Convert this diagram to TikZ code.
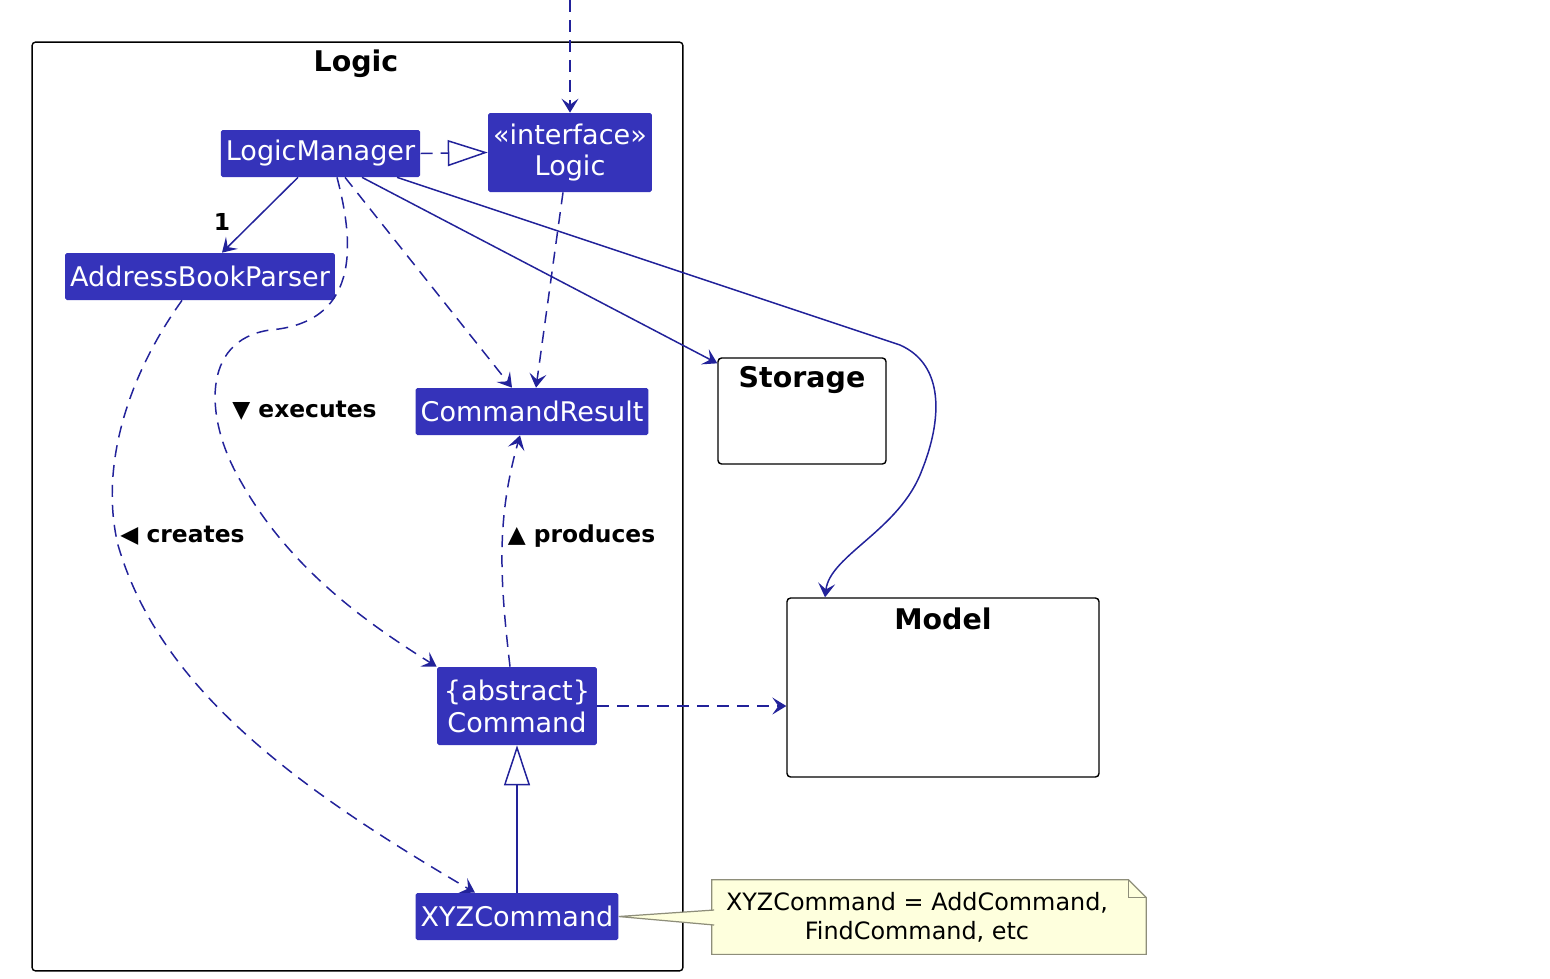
\documentclass[tikz,border=0pt]{standalone}
\usepackage{fontspec}
\setmainfont{DejaVu Sans}
\usetikzlibrary{arrows.meta,positioning}
\definecolor{umlblue}{HTML}{3533BA}
\definecolor{umlline}{HTML}{22229A}
\definecolor{notefill}{HTML}{FEFFDD}
\definecolor{noteline}{HTML}{8E8E7A}

\begin{document}
\begin{tikzpicture}[x=0.02cm, y=-0.02cm,
    cls/.style={rectangle, fill=umlblue, rounded corners=1pt, text=white, align=center, inner xsep=0.1cm, minimum height=0.94cm, font=\fontsize{15.4}{18.1}\selectfont},
    pkg/.style={rectangle, draw=black, rounded corners=2pt, line width=0.8pt},
    pkgtitle/.style={font=\bfseries\fontsize{16.2}{18}\selectfont, inner sep=0pt},
    lbl/.style={font=\bfseries\fontsize{13.3}{15}\selectfont, inner sep=1pt},
    notetext/.style={align=center, font=\fontsize{13.6}{16.3}\selectfont},
    conn/.style={umlline, line width=0.85pt},
    dep/.style={conn, dash pattern=on 2.4mm off 1.6mm},
    arrow/.style={-{Stealth[length=2.8mm, width=3.4mm, inset=1.2mm]}},
    realize/.style={-{Triangle[open, length=0.8cm, width=0.52cm, fill=white]}}]
  \useasboundingbox (0,0) rectangle (1550,978);
  % packages
  \node[pkg, minimum width=13.02cm, minimum height=18.58cm] (logicpkg) at (357.5,506.5) {};
  \node[pkgtitle] (logictitle) at (356,64) {Logic};
  \node[pkg, minimum width=3.36cm, minimum height=2.12cm] (storage) at (802,411) {};
  \node[pkgtitle] (storagetitle) at (802,380) {Storage};
  \node[pkg, minimum width=6.24cm, minimum height=3.58cm] (model) at (943,687.5) {};
  \node[pkgtitle] (modeltitle) at (943,619) {Model};
  % classes
  \node[cls] (lm) at (320.5,153.5) {LogicManager};
  \node[cls, minimum width=3.24cm, minimum height=1.58cm] (logic) at (570,152.5) {«interface»\\Logic};
  \node[cls] (abp) at (200,276.5) {AddressBookParser};
  \node[cls] (res) at (532,411.5) {CommandResult};
  \node[cls, minimum width=3.2cm, minimum height=1.56cm] (cmd) at (517,706) {\{abstract\}\\Command};
  \node[cls] (xyz) at (517,916.5) {XYZCommand};
  % note
  \node[rectangle, minimum width=8.68cm, minimum height=1.48cm] (note) at (929,917) {};
  \draw[noteline, fill=notefill, line width=0.7pt] (note.north west) -- ([xshift=-3.6mm]note.north east) -- ([yshift=-3.6mm]note.north east) -- (note.south east) -- (note.south west) -- cycle;
  \draw[noteline, line width=0.7pt] ([xshift=-3.6mm]note.north east) -- ([xshift=-3.6mm, yshift=-3.6mm]note.north east) -- ([yshift=-3.6mm]note.north east);
  \node[notetext] (notebody) at (917,917) {XYZCommand = AddCommand,\\FindCommand, etc};
  \filldraw[noteline, fill=notefill, line width=0.7pt] ([xshift=0.5mm, yshift=1.4mm]note.west) -- (xyz.east) -- ([xshift=0.5mm, yshift=-1.6mm]note.west);
  \fill[notefill] ([xshift=0.6mm, yshift=1.2mm]note.west) rectangle ([xshift=-0.3mm, yshift=-1.4mm]note.west);
  % connectors
  \coordinate (caller) at (570,0);
  \draw[dep, arrow] (caller) -- (logic.north);
  \draw[dep, realize] (lm.east) -- (logic.west);
  \draw[conn, arrow] ([xshift=-4.5mm]lm.south) -- ([xshift=4.4mm]abp.north) node[lbl, pos=1, yshift=0.62cm, text=black] {1};
  \draw[dep, arrow] ([xshift=4.9mm]lm.south) -- ([xshift=-4mm]res.north);
  \draw[dep, arrow] ([xshift=-1.4mm]logic.south) -- ([xshift=0.8mm]res.north);
  \draw[conn, arrow] ([xshift=8.3mm]lm.south) -- ([yshift=-1.2mm]storage.north west);
  \draw[conn, arrow] ([xshift=15.3mm]lm.south) -- (900,345) .. controls (945,365) and (942,420) .. (922,470) .. controls (900,530) and (830,555) .. ([xshift=-23.6mm]model.north);
  \draw[dep, arrow] ([xshift=3.3mm]lm.south) .. controls (352,235) and (365,322) .. (270,330) .. controls (200,340) and (205,420) .. (240,480) .. controls (290,570) and (370,625) .. (cmd.north west);
  \draw[dep, arrow] ([xshift=-3.6mm]abp.south) .. controls (125,380) and (100,470) .. (118,545) .. controls (160,690) and (300,790) .. ([xshift=-8.4mm]xyz.north);
  \draw[dep, arrow] ([xshift=-1.4mm]cmd.north) .. controls (500,580) and (496,520) .. ([xshift=-2.4mm]res.south);
  \draw[dep, arrow] (cmd.east) -- (cmd.east -| model.west);
  \draw[conn, realize] (xyz.north) -- (cmd.south);
  % labels
  \node[lbl] (execlbl) at (304.5,411) {▼ executes};
  \node[lbl] (createlbl) at (182.5,536) {◀ creates};
  \node[lbl] (prodlbl) at (581.5,536) {▲ produces};
\end{tikzpicture}
\end{document}
